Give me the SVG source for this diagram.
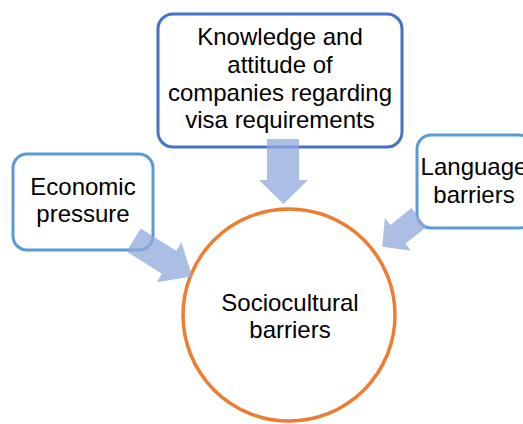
<svg xmlns="http://www.w3.org/2000/svg" width="523" height="424" viewBox="0 0 523 424">
<style>
.box{fill:#fff;stroke-width:3}
.dark{stroke:#4472C4}
.light{stroke:#5B9BD5}
.t{font-family:"Liberation Sans",Arial,sans-serif;font-size:24px;fill:#000;text-anchor:middle}
.arr{fill:#8FAADC;fill-opacity:0.75;stroke:none}
</style>
<rect width="523" height="424" fill="#fff"/>
<g id="node-knowledge">
<rect class="box dark" x="158" y="14" width="244" height="133" rx="15"/>
<text class="t" x="280" y="45">Knowledge and</text>
<text class="t" x="280" y="73">attitude of</text>
<text class="t" x="280" y="101">companies regarding</text>
<text class="t" x="280" y="128">visa requirements</text>
</g>
<g id="node-economic">
<rect class="box light" x="13" y="154" width="140" height="96" rx="14"/>
<text class="t" x="83" y="195">Economic</text>
<text class="t" x="83" y="222">pressure</text>
</g>
<g id="node-language">
<rect class="box light" x="417" y="135" width="116" height="93" rx="14"/>
<text class="t" x="474" y="175">Language</text>
<text class="t" x="474" y="203">barriers</text>
</g>
<g id="node-sociocultural">
<circle cx="289" cy="315" r="106" fill="#fff" stroke="#ED7D31" stroke-width="3.5"/>
<text class="t" x="290" y="311">Sociocultural</text>
<text class="t" x="290" y="338">barriers</text>
</g>
<g id="connectors">
<polygon class="arr" points="267,139 299,139 299,180 308,180 283.5,204 259,180 267,180"/>
<polygon class="arr" transform="translate(133.5,240) rotate(32)" points="0,-13.5 42,-13.5 42,-23.5 69,0 42,23.5 42,13.5 0,13.5"/>
<polygon class="arr" transform="translate(419,217.5) rotate(141.4)" points="0,-12 27,-12 27,-21 47,0 27,21 27,12 0,12"/>
</g>
</svg>
